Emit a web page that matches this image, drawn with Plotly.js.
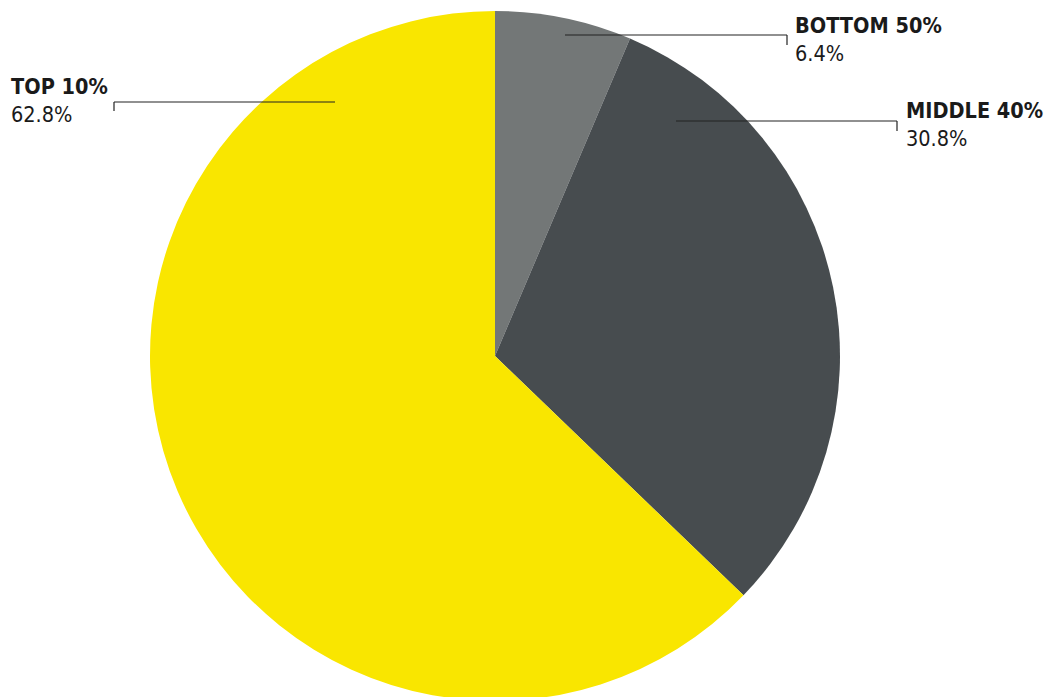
<!DOCTYPE html>
<html>
<head>
<meta charset="utf-8">
<script src="https://cdn.plot.ly/plotly-3.0.1.min.js"></script>
<style>
html,body{margin:0;padding:0;overflow:hidden;background:#fff;}
#chart{width:1049px;height:704px;}
</style>
</head>
<body>
<div id="chart"></div>
<script>
const groups = ["BOTTOM 50%", "MIDDLE 40%", "TOP 10%"];
const shares = [6.4, 30.8, 62.8];
const colors = ["#737777", "#474c4f", "#f9e600"];
const shareLabels = ["6.4%", "30.8%", "62.8%"];

const W = 1049, H = 704;
const px = x => x / W;
const py = y => 1 - y / H;

// label placement (pixels): text left, text block centre y, leader line y, line x from/to (tick at x1), tick bottom
const labelLayout = [
  {tx: 793, cy: 40, ly: 35, x0: 565, x1: 787, tick: 45},
  {tx: 904, cy: 125, ly: 121, x0: 676, x1: 897, tick: 131},
  {tx: 9, cy: 101, ly: 102, x0: 335, x1: 114, tick: 111}
];

const FONT = "'DejaVu Sans Condensed', 'DejaVu Sans', sans-serif";
const annotations = [];
const shapes = [];
groups.forEach((g, i) => {
  const L = labelLayout[i];
  annotations.push({x: px(L.tx), y: py(L.cy), xref: 'paper', yref: 'paper', xanchor: 'left', yanchor: 'middle', align: 'left',
    text: '<b>' + g + '</b><br>' + shareLabels[i], showarrow: false,
    font: {family: FONT, size: 21.5, color: '#1a1a1a'}});
  shapes.push({type: 'line', xref: 'paper', yref: 'paper', x0: px(L.x0), x1: px(L.x1), y0: py(L.ly), y1: py(L.ly),
    line: {color: '#222', width: 1.2}});
  shapes.push({type: 'line', xref: 'paper', yref: 'paper', x0: px(L.x1), x1: px(L.x1), y0: py(L.ly), y1: py(L.tick),
    line: {color: '#222', width: 1.2}});
});

const data = [{
  type: 'pie',
  labels: groups,
  values: shares,
  marker: {colors: colors, line: {width: 0}},
  sort: false,
  direction: 'clockwise',
  rotation: 0,
  textinfo: 'none',
  hoverinfo: 'label+percent',
  domain: {x: [px(150), px(840)], y: [py(701), py(11)]}
}];

const layout = {
  width: W, height: H,
  margin: {l: 0, r: 0, t: 0, b: 0},
  showlegend: false,
  paper_bgcolor: '#fff',
  annotations: annotations,
  shapes: shapes
};

Plotly.newPlot('chart', data, layout, {displayModeBar: false, staticPlot: true});
</script>
</body>
</html>
